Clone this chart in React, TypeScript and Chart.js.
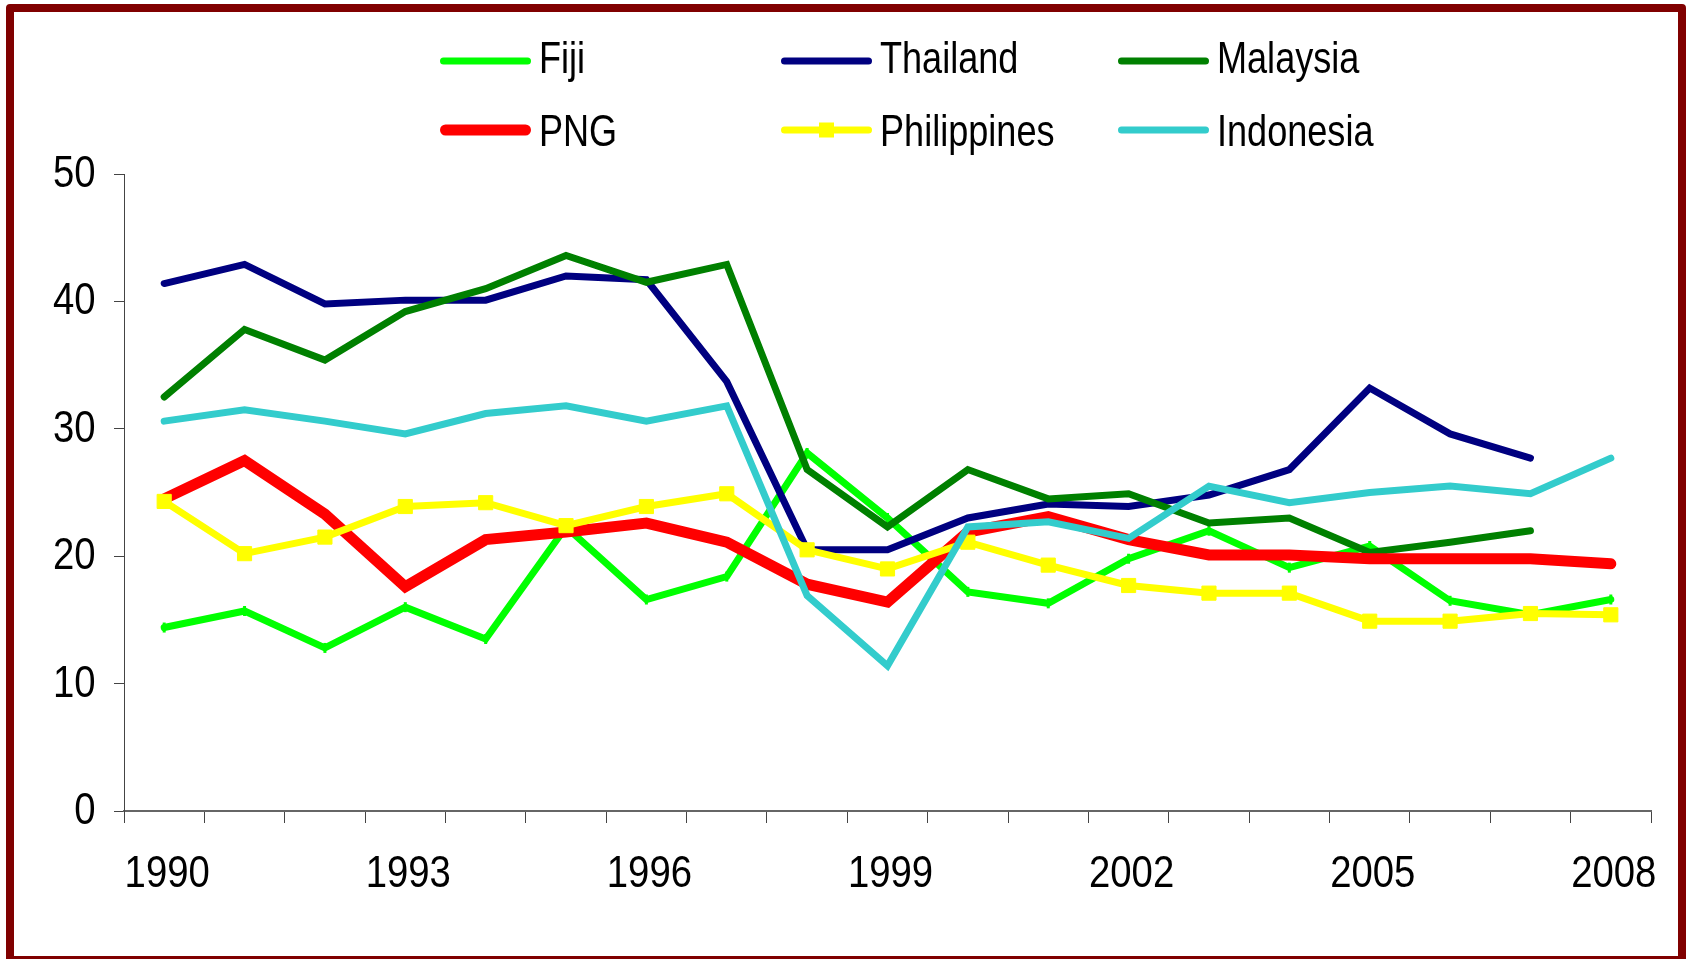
import React, { useEffect, useRef } from 'react';
import { Chart, registerables } from 'chart.js';

Chart.register(...registerables);

// ---- data ----
const years = [
  '1990', '1991', '1992', '1993', '1994', '1995', '1996', '1997', '1998', '1999',
  '2000', '2001', '2002', '2003', '2004', '2005', '2006', '2007', '2008',
];
const shownYearLabels = ['1990', '1993', '1996', '1999', '2002', '2005', '2008'];
const yTicks = [0, 10, 20, 30, 40, 50];

const fiji = [14.4, 15.7, 12.8, 16.0, 13.5, 22.3, 16.6, 18.4, 28.1, 23.0, 17.2, 16.3, 19.8, 22.0, 19.1, 20.8, 16.5, 15.4, 16.6];
const thailand = [41.4, 42.9, 39.8, 40.1, 40.1, 42.0, 41.7, 33.7, 20.5, 20.5, 23.0, 24.1, 23.9, 24.8, 26.8, 33.2, 29.6, 27.7, null];
const malaysia = [32.5, 37.8, 35.4, 39.2, 41.0, 43.6, 41.5, 42.9, 26.8, 22.3, 26.8, 24.5, 24.9, 22.6, 23.0, 20.3, 21.1, 22.0, null];
const png = [24.5, 27.5, 23.3, 17.6, 21.3, 21.9, 22.6, 21.1, 17.8, 16.4, 21.9, 23.1, 21.3, 20.1, 20.1, 19.8, 19.8, 19.8, 19.4];
const philippines = [24.3, 20.2, 21.5, 23.9, 24.2, 22.4, 23.9, 24.9, 20.5, 19.0, 21.1, 19.3, 17.7, 17.1, 17.1, 14.9, 14.9, 15.5, 15.4];
const indonesia = [30.6, 31.5, 30.6, 29.6, 31.2, 31.8, 30.6, 31.8, 16.9, 11.4, 22.3, 22.7, 21.4, 25.5, 24.2, 25.0, 25.5, 24.9, 27.7];

const FONT = "'Liberation Sans', Arial, sans-serif";
const FONT_SIZE = 44;
const DIGIT_SQUEEZE = 0.87; // the original text is condensed horizontally
const LEGEND_SQUEEZE = 0.82;

function drawSqueezedText(
  ctx: CanvasRenderingContext2D,
  text: string,
  x: number,
  y: number,
  align: CanvasTextAlign,
  squeeze: number,
) {
  ctx.save();
  ctx.translate(x, y);
  ctx.scale(squeeze, 1);
  ctx.textAlign = align;
  ctx.textBaseline = 'alphabetic';
  ctx.fillText(text, 0, 0);
  ctx.restore();
}

const legendPlugin = {
  id: 'gridLegend',
  afterDraw(chart: any) {
    const ctx = chart.ctx;
    const colX = [440, 781, 1118];
    const rowLineY = [61, 130];
    const rowTextY = [72.7, 145.5];
    const lineLen = 91;
    ctx.save();
    chart.data.datasets.forEach((ds: any, i: number) => {
      const col = i % 3;
      const row = Math.floor(i / 3);
      const x = colX[col];
      const y = rowLineY[row];
      ctx.strokeStyle = ds.borderColor;
      ctx.lineWidth = ds.borderWidth;
      ctx.lineCap = 'round';
      ctx.beginPath();
      ctx.moveTo(x + ds.borderWidth / 2, y);
      ctx.lineTo(x + lineLen - ds.borderWidth / 2, y);
      ctx.stroke();
      if (ds.pointStyle === 'rect') {
        const s = 15;
        ctx.fillStyle = ds.pointBackgroundColor;
        ctx.fillRect(x + lineLen / 2 - s / 2, y - s / 2, s, s);
      }
      ctx.fillStyle = '#000';
      ctx.font = `${FONT_SIZE}px ${FONT}`;
      drawSqueezedText(ctx, ds.label, x + lineLen + 8, rowTextY[row], 'left', LEGEND_SQUEEZE);
    });
    ctx.restore();
  },
};

// tick labels: taken from the scales' own ticks and pixel positions
const tickLabelPlugin = {
  id: 'tickLabels',
  afterDraw(chart: any) {
    const ctx = chart.ctx;
    const xs = chart.scales.x;
    const ys = chart.scales.y;
    ctx.save();
    ctx.fillStyle = '#000';
    ctx.font = `${FONT_SIZE}px ${FONT}`;
    xs.ticks.forEach((_t: any, i: number) => {
      const label = years[i];
      if (!shownYearLabels.includes(label)) return;
      drawSqueezedText(ctx, label, xs.getPixelForTick(i) + 3, xs.top + 75.5, 'center', DIGIT_SQUEEZE);
    });
    ys.ticks.forEach((t: any, i: number) => {
      drawSqueezedText(ctx, String(t.value), ys.right - 28.5, ys.getPixelForTick(i) + 13, 'right', DIGIT_SQUEEZE);
    });
    ctx.restore();
  },
};

const framePlugin = {
  id: 'frame',
  beforeDraw(chart: any) {
    const ctx = chart.ctx;
    ctx.save();
    ctx.fillStyle = '#ffffff';
    ctx.fillRect(0, 0, chart.width, chart.height);
    ctx.restore();
  },
  afterDraw(chart: any) {
    const ctx = chart.ctx;
    ctx.save();
    ctx.strokeStyle = '#800000';
    ctx.lineWidth = 8;
    ctx.lineJoin = 'round';
    ctx.strokeRect(10, 8, 1672, 952);
    ctx.restore();
  },
};

export default function App() {
  const canvasRef = useRef<HTMLCanvasElement | null>(null);

  useEffect(() => {
    const canvas = canvasRef.current;
    if (!canvas) return;
    const common = {
      fill: false,
      spanGaps: false,
      borderCapStyle: 'round',
      borderJoinStyle: 'miter',
      tension: 0,
    };
    const chart = new Chart(canvas, {
      type: 'line',
      data: {
        labels: years,
        datasets: [
          {
            ...common,
            label: 'Fiji',
            data: fiji,
            borderColor: '#00FF00',
            backgroundColor: '#00FF00',
            borderWidth: 7,
            pointStyle: 'line',
            rotation: 90,
            pointRadius: 5,
            pointBorderWidth: 3,
            pointBorderColor: '#00FF00',
            order: 6,
          },
          {
            ...common,
            label: 'Thailand',
            data: thailand,
            borderColor: '#000080',
            backgroundColor: '#000080',
            borderWidth: 7,
            pointRadius: 0,
            order: 5,
          },
          {
            ...common,
            label: 'Malaysia',
            data: malaysia,
            borderColor: '#008000',
            backgroundColor: '#008000',
            borderWidth: 7,
            pointRadius: 0,
            order: 4,
          },
          {
            ...common,
            label: 'PNG',
            data: png,
            borderColor: '#FF0000',
            backgroundColor: '#FF0000',
            borderWidth: 11,
            pointRadius: 0,
            order: 3,
          },
          {
            ...common,
            label: 'Philippines',
            data: philippines,
            borderColor: '#FFFF00',
            backgroundColor: '#FFFF00',
            borderWidth: 7,
            pointStyle: 'rect',
            pointRadius: 10,
            pointBorderWidth: 1,
            pointBackgroundColor: '#FFFF00',
            pointBorderColor: '#FFFF00',
            order: 2,
          },
          {
            ...common,
            label: 'Indonesia',
            data: indonesia,
            borderColor: '#33CCCC',
            backgroundColor: '#33CCCC',
            borderWidth: 7,
            pointRadius: 0,
            order: 1,
          },
        ] as any,
      },
      options: {
        responsive: false,
        animation: false,
        events: [],
        layout: { padding: { top: 174, left: 0, right: 39, bottom: 0 } },
        plugins: {
          legend: { display: false },
          tooltip: { enabled: false },
          title: { display: false },
        },
        scales: {
          x: {
            type: 'category',
            offset: true,
            grid: {
              offset: true,
              drawOnChartArea: false,
              drawTicks: true,
              tickLength: 12,
              color: '#444',
              lineWidth: 1,
            },
            border: { display: true, color: '#666', width: 2 },
            ticks: {
              display: false,
              autoSkip: false,
              maxRotation: 0,
              minRotation: 0,
            },
            afterFit: (s: any) => {
              s.height = 148;
            },
          },
          y: {
            type: 'linear',
            min: yTicks[0],
            max: yTicks[yTicks.length - 1],
            afterBuildTicks: (s: any) => {
              s.ticks = yTicks.map((v) => ({ value: v }));
            },
            grid: {
              drawOnChartArea: false,
              drawTicks: true,
              tickLength: 10,
              color: '#444',
              lineWidth: 1,
            },
            border: { display: true, color: '#444', width: 1 },
            ticks: { display: false },
            afterFit: (s: any) => {
              s.width = 124;
            },
          },
        },
      } as any,
      plugins: [framePlugin, legendPlugin, tickLabelPlugin],
    });
    return () => chart.destroy();
  }, []);

  return (
    <canvas
      ref={canvasRef}
      width={1690}
      height={959}
      style={{ position: 'fixed', left: 0, top: 0, width: 1690, height: 959, display: 'block' }}
    />
  );
}
